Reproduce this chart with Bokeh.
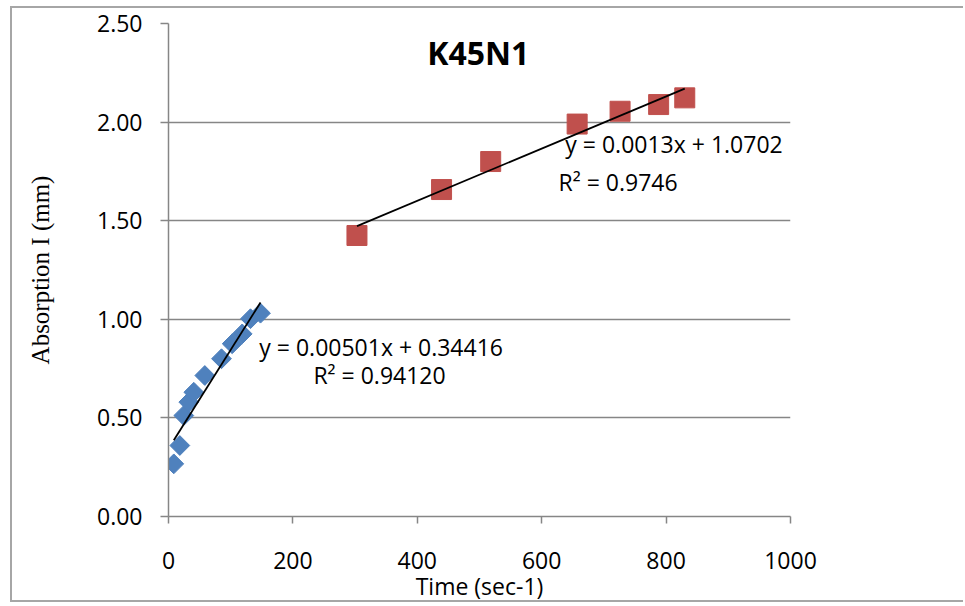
import numpy as np
from bokeh.plotting import figure
from bokeh.models import Range1d, FixedTicker, NumeralTickFormatter, Label
from bokeh.embed import file_html
from bokeh.resources import INLINE

# ---- data ----
blue_time = [8.5, 18.2, 24.6, 32.6, 40.7, 58.4, 85.2, 102.4, 118.5, 131.8, 147.9]
blue_abs = [0.267, 0.360, 0.512, 0.580, 0.630, 0.715, 0.800, 0.876, 0.926, 1.003, 1.031]
red_time = [303, 439, 518, 657, 726, 788, 830]
red_abs = [1.425, 1.658, 1.800, 1.990, 2.055, 2.089, 2.123]
blue_fit = (0.00501, 0.34416)
x_ticks = [0, 200, 400, 600, 800, 1000]
y_ticks = [0.0, 0.5, 1.0, 1.5, 2.0, 2.5]
title_text = "K45N1"
x_title = "Time (sec-1)"
y_title = "Absorption I (mm)"
eq_blue = ["y = 0.00501x + 0.34416", "R² = 0.94120"]
eq_red = ["y = 0.0013x + 1.0702", "R² = 0.9746"]

FONT = "Open Sans"
GRID = "#868686"

# figure placed inside a chart-area border drawn with CSS (left/top/bottom)
p = figure(width=953, height=596, output_backend="svg", toolbar_location=None,
           x_range=Range1d(0, 1000), y_range=Range1d(0, 2.5),
           min_border_left=156, min_border_right=175, min_border_top=15, min_border_bottom=88,
           styles={"margin-left": "10px", "margin-top": "6px",
                   "border-left": "2px solid #a6a6a6", "border-top": "2px solid #a6a6a6",
                   "border-bottom": "2px solid #a6a6a6"})
p.outline_line_color = None
p.background_fill_color = "white"
p.border_fill_color = "white"

# axes
p.xaxis.ticker = FixedTicker(ticks=x_ticks)
p.yaxis.ticker = FixedTicker(ticks=y_ticks)
p.yaxis.formatter = NumeralTickFormatter(format="0.00")
for ax in (p.xaxis[0], p.yaxis[0]):
    ax.axis_line_color = GRID
    ax.axis_line_width = 1.5
    ax.major_tick_line_color = GRID
    ax.major_tick_line_width = 1.5
    ax.major_tick_in = 0
    ax.minor_tick_line_color = None
    ax.major_label_text_font = FONT
    ax.major_label_text_font_size = "23px"
    ax.major_label_text_color = "black"
p.xaxis.major_tick_out = 7
p.yaxis.major_tick_out = 8
p.xaxis.major_label_standoff = 28
p.yaxis.major_label_standoff = 18

p.xaxis.axis_label = x_title
p.xaxis.axis_label_text_font = FONT
p.xaxis.axis_label_text_font_size = "23px"
p.xaxis.axis_label_text_font_style = "normal"
p.xaxis.axis_label_text_color = "black"
p.xaxis.axis_label_standoff = -2

p.yaxis.axis_label = y_title
p.yaxis.axis_label_text_font = "Liberation Serif"
p.yaxis.axis_label_text_font_size = "25px"
p.yaxis.axis_label_text_font_style = "normal"
p.yaxis.axis_label_text_color = "black"
p.yaxis.axis_label_standoff = 40

p.xgrid.grid_line_color = None
p.ygrid.grid_line_color = GRID
p.ygrid.grid_line_width = 1.5

# markers
p.scatter(blue_time, blue_abs, marker="square", size=14, angle=np.pi / 4,
          fill_color="#4F81BD", line_color="#4F81BD")
p.scatter(red_time, red_abs, marker="square", size=20,
          fill_color="#C0504D", line_color="#C0504D")

# trendlines
bx = np.array([min(blue_time), max(blue_time)])
p.line(bx, blue_fit[0] * bx + blue_fit[1], line_color="black", line_width=1.8)
rs, ri = np.polyfit(red_time, red_abs, 1)
rx = np.array([min(red_time), max(red_time)])
p.line(rx, rs * rx + ri, line_color="black", line_width=1.8)

# texts
p.add_layout(Label(x=498, y=2.355, text=title_text, text_font=FONT, text_font_size="32px",
                   text_font_style="bold", text_color="black",
                   text_align="center", text_baseline="middle"))
p.add_layout(Label(x=146, y=0.862, text=eq_blue[0], text_font=FONT, text_font_size="23px",
                   text_color="black", text_align="left", text_baseline="middle"))
p.add_layout(Label(x=233, y=0.720, text=eq_blue[1], text_font=FONT, text_font_size="23px",
                   text_color="black", text_align="left", text_baseline="middle"))
p.add_layout(Label(x=638, y=1.891, text=eq_red[0], text_font=FONT, text_font_size="23px",
                   text_color="black", text_align="left", text_baseline="middle"))
p.add_layout(Label(x=627, y=1.694, text=eq_red[1], text_font=FONT, text_font_size="23px",
                   text_color="black", text_align="left", text_baseline="middle"))

open("out.html", "w").write(file_html(p, INLINE))
